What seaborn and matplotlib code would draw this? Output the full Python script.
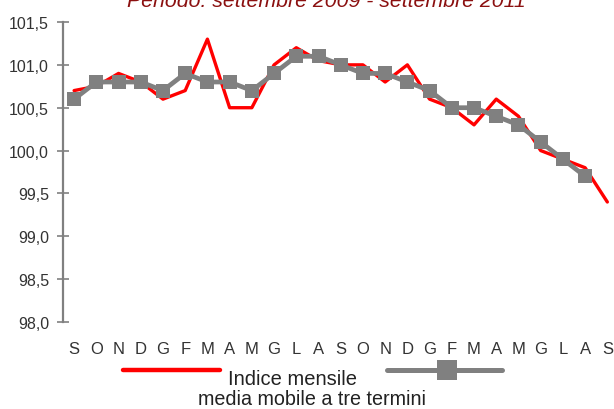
import numpy as np
import pandas as pd
import matplotlib
matplotlib.use("Agg")
import matplotlib.pyplot as plt
from matplotlib.lines import Line2D
from matplotlib.ticker import FuncFormatter
import seaborn as sns

# data (Sep 2009 - Sep 2011)
months = ["S", "O", "N", "D", "G", "F", "M", "A", "M", "G", "L", "A",
          "S", "O", "N", "D", "G", "F", "M", "A", "M", "G", "L", "A", "S"]
indice_mensile = [100.7, 100.75, 100.9, 100.8, 100.6, 100.7, 101.3, 100.5, 100.5,
                  101.0, 101.2, 101.05, 101.0, 101.0, 100.8, 101.0, 100.6, 100.5,
                  100.3, 100.6, 100.4, 100.0, 99.9, 99.8, 99.4]
media_mobile = [100.6, 100.8, 100.8, 100.8, 100.7, 100.9, 100.8, 100.8, 100.7,
                100.9, 101.1, 101.1, 101.0, 100.9, 100.9, 100.8, 100.7, 100.5,
                100.5, 100.4, 100.3, 100.1, 99.9, 99.7, np.nan]
y_ticks = [98.0, 98.5, 99.0, 99.5, 100.0, 100.5, 101.0, 101.5]

df = pd.DataFrame({"pos": range(len(months)),
                   "indice": indice_mensile,
                   "media": media_mobile})

sns.set_style("white")
plt.rcParams["font.family"] = ["Liberation Sans", "DejaVu Sans"]

fig = plt.figure(figsize=(6.14, 4.10), dpi=100)
ax = fig.add_axes([63 / 614, 87 / 410, 551 / 614, 300 / 410])

sns.lineplot(data=df, x="pos", y="indice", color="#ff0000", lw=2.4, ax=ax)
sns.lineplot(data=df, x="pos", y="media", color="#808080", lw=3.4,
             marker="s", markersize=10.5, markeredgewidth=0, ax=ax)

ax.set_xlim(-0.5, 24.3)
ax.set_ylim(98.0, 101.5)
ax.set_xlabel("")
ax.set_ylabel("")
ax.set_xticks(df["pos"])
ax.set_xticklabels(months, fontsize=12, color="#333333")
ax.set_yticks(y_ticks)
ax.yaxis.set_major_formatter(FuncFormatter(lambda v, p: f"{v:.1f}".replace(".", ",")))
for lab in ax.get_yticklabels():
    lab.set_fontsize(11.5)
    lab.set_color("#333333")
ax.tick_params(axis="x", length=0, pad=14)
ax.tick_params(axis="y", direction="inout", length=8, width=1.2,
               color="#808080", pad=6, left=True)

for s in ["top", "right", "bottom"]:
    ax.spines[s].set_visible(False)
ax.spines["left"].set_color("#808080")
ax.spines["left"].set_linewidth(1.6)
ax.grid(False)

# title, cut off at the top edge as in the original
fig.text(326 / 614, 403 / 410, "Periodo: settembre 2009 - settembre 2011",
         ha="center", va="baseline", fontsize=15.3, style="italic", color="#8b1010")

# legend drawn by hand to match the original layout
fig.add_artist(Line2D([123 / 614, 220 / 614], [39 / 410, 39 / 410],
                      transform=fig.transFigure, color="#ff0000", lw=3.2,
                      solid_capstyle="round"))
fig.add_artist(Line2D([387 / 614, 502 / 614], [39 / 410, 39 / 410],
                      transform=fig.transFigure, color="#808080", lw=3.6,
                      solid_capstyle="round"))
fig.add_artist(Line2D([447 / 614], [39 / 410], transform=fig.transFigure,
                      color="#808080", marker="s", markersize=15, markeredgewidth=0))
fig.text(228 / 614, 25 / 410, "Indice mensile", ha="left", va="baseline",
         fontsize=14.5, color="#222222")
fig.text(312 / 614, 5 / 410, "media mobile a tre termini", ha="center", va="baseline",
         fontsize=14.2, color="#222222")

fig.savefig("out.png", dpi=100)
